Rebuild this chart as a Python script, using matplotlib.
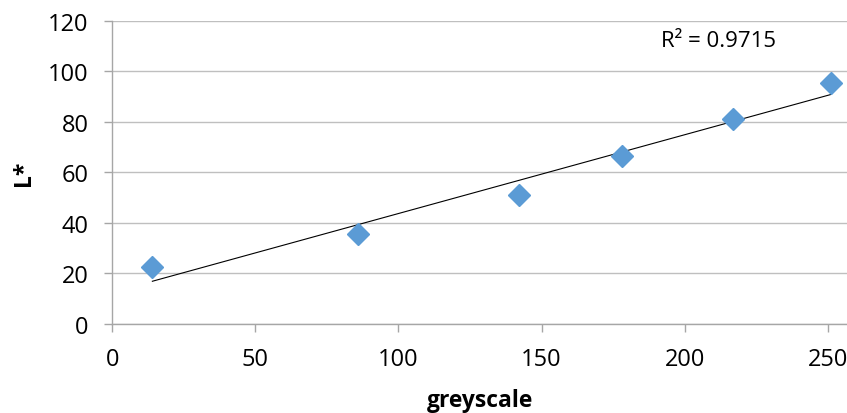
import numpy as np
import matplotlib
matplotlib.use("Agg")
import matplotlib.pyplot as plt

plt.rcParams['font.family'] = ['Open Sans', 'DejaVu Sans']

# данные
greyscale = [14, 86, 142, 178, 217, 251]
lstar = [22.5, 35.5, 51, 66.5, 81, 95.5]
r2_text = "R² = 0.9715"

fig = plt.figure(figsize=(8.47, 4.14), dpi=100)
ax = fig.add_axes([112.3 / 847, 1 - 324.7 / 414, 1 - 112.3 / 847, (324.7 - 22) / 414])

# линейный тренд
k, b = np.polyfit(greyscale, lstar, 1)
xs = np.array([min(greyscale), max(greyscale)])
ax.plot(xs, k * xs + b, color='black', lw=0.8, zorder=2)

ax.plot(greyscale, lstar, linestyle='none', marker='D', ms=11,
        color='#5B9BD5', zorder=3, clip_on=False)

ax.set_xlim(0, 250 * (847 - 112.3) / (827.7 - 112.3))
ax.set_ylim(0, 120)
ax.set_xticks([0, 50, 100, 150, 200, 250])
ax.set_yticks(range(0, 121, 20))
ax.grid(axis='y', color='#BFBFBF', lw=1)
ax.set_axisbelow(True)

for s in ['top', 'right']:
    ax.spines[s].set_visible(False)
for s in ['left', 'bottom']:
    ax.spines[s].set_color('#A6A6A6')
    ax.spines[s].set_linewidth(1)

ax.tick_params(axis='both', direction='out', length=6, width=1,
               color='#A6A6A6', labelsize=17, labelcolor='black')
ax.tick_params(axis='x', pad=11)
ax.tick_params(axis='y', pad=11)

ax.set_xlabel("greyscale", fontsize=16.5, fontweight='bold', labelpad=12)
ax.set_ylabel("L*", fontsize=16.5, fontweight='bold', labelpad=9)

ax.text(0.825, 0.935, r2_text, transform=ax.transAxes, fontsize=16,
        ha='center', va='center')

fig.savefig("out.png", dpi=100)
